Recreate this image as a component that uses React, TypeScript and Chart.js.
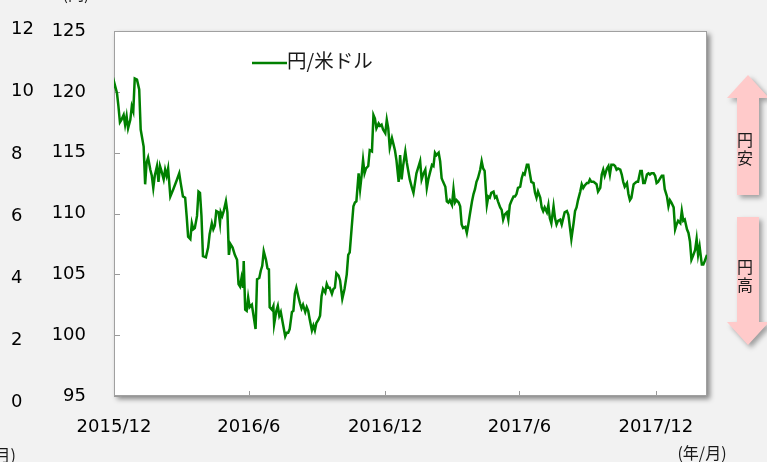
import React, { useEffect, useRef } from 'react';
import { Chart, registerables } from 'chart.js';

Chart.register(...registerables);

// Day offsets counted from 2015-12-31
const days = [
  0, 1, 4, 6, 8, 10, 13, 15, 17, 19, 22, 24, 26, 28, 31, 34, 36, 40, 42, 44, 46, 49, 51, 53, 55, 58, 60, 62, 64, 67,
  69, 71, 73, 76, 80, 85, 88, 90, 93, 96, 98, 100, 103, 105, 107, 109, 112, 114, 116, 118, 120, 124, 127, 129, 132,
  134, 136, 138, 141, 143, 144, 146, 148, 151, 153, 155, 157, 160, 163, 166, 168, 170, 172, 174, 175, 177, 179, 181,
  183, 186, 189, 191, 193, 196, 198, 200, 202, 205, 207, 209, 210, 213, 215, 216, 219, 221, 223, 225, 228, 231, 233,
  235, 237, 240, 242, 244, 246, 249, 251, 253, 255, 258, 260, 262, 264, 267, 269, 271, 273, 276, 278, 280, 282, 285,
  287, 289, 291, 294, 296, 298, 300, 303, 305, 307, 308, 311, 314, 316, 318, 321, 323, 325, 327, 330, 332, 334, 336,
  338, 340, 343, 345, 348, 350, 352, 354, 357, 359, 361, 363, 366, 368, 370, 372, 375, 377, 379, 381, 384, 386, 388,
  390, 393, 395, 397, 399, 402, 404, 406, 408, 411, 413, 415, 417, 420, 422, 424, 426, 429, 431, 433, 435, 438, 440,
  442, 444, 447, 449, 451, 453, 456, 458, 460, 462, 465, 467, 469, 471, 474, 476, 478, 480, 483, 485, 487, 489, 491,
  494, 496, 498, 500, 503, 505, 507, 509, 512, 514, 516, 518, 521, 523, 525, 527, 530, 532, 534, 536, 539, 541, 543,
  545, 548, 550, 552, 554, 557, 559, 561, 563, 566, 568, 570, 572, 575, 577, 579, 581, 584, 586, 588, 590, 593, 595,
  597, 599, 602, 604, 606, 608, 611, 613, 615, 617, 620, 622, 624, 626, 629, 631, 633, 635, 638, 640, 642, 644, 647,
  649, 651, 653, 656, 658, 660, 662, 665, 667, 669, 671, 674, 676, 678, 680, 683, 685, 687, 689, 692, 694, 696, 698,
  701, 703, 705, 707, 710, 712, 714, 716, 719, 721, 723, 725, 728, 730, 732, 734, 737, 739, 741, 743, 746, 748, 750,
  752, 755, 757, 759, 761, 764, 766, 768, 770, 773, 775, 777, 779, 781, 784, 786, 788, 790, 793, 795, 797, 800,
];

// 円/米ドル
const rates = [
  120.4, 120.6, 119.9, 118.8, 117.5, 117.7, 118.1, 117.3, 118.0, 117.0, 117.7, 118.8, 118.4, 121.1, 121.0, 120.2,
  116.9, 115.5, 112.4, 114.2, 114.6, 113.6, 113.1, 112.1, 113.1, 113.9, 112.6, 113.9, 113.5, 112.8, 113.6, 113.1,
  113.7, 111.4, 112.0, 112.8, 113.3, 112.5, 111.4, 111.3, 109.8, 108.1, 107.9, 109.2, 108.7, 108.8, 109.8, 111.8,
  111.7, 109.8, 106.5, 106.4, 107.2, 108.3, 109.2, 108.7, 109.0, 110.2, 110.1, 109.2, 110.1, 109.8, 110.2, 111.0,
  110.1, 106.6, 107.5, 107.2, 106.6, 106.2, 104.2, 104.0, 104.7, 103.9, 106.1, 102.1, 102.0, 103.1, 102.3, 102.5,
  101.3, 100.5, 104.6, 104.7, 105.3, 105.7, 106.9, 106.2, 105.5, 105.4, 102.3, 102.1, 102.4, 100.9, 102.0, 102.4,
  101.6, 101.9, 100.9, 99.9, 100.2, 100.2, 100.5, 101.9, 102.0, 103.4, 103.9, 103.1, 102.6, 102.2, 102.5, 101.9,
  102.3, 102.0, 101.3, 100.4, 100.8, 100.4, 101.0, 101.3, 101.6, 103.2, 103.8, 103.5, 104.2, 103.9, 103.9, 103.4,
  103.8, 103.9, 105.1, 104.9, 104.5, 103.5, 103.0, 103.8, 105.0, 106.6, 106.8, 109.1, 110.6, 110.9, 111.0, 113.3,
  112.0, 113.1, 114.4, 113.3, 113.7, 113.9, 115.2, 115.1, 118.1, 117.8, 117.0, 117.4, 117.2, 117.3, 116.9, 116.6,
  117.7, 117.0, 115.4, 116.2, 115.7, 115.2, 114.4, 112.6, 114.8, 112.8, 113.9, 115.1, 114.2, 113.5, 112.8, 112.1,
  111.7, 112.5, 113.3, 113.9, 114.3, 112.8, 113.2, 113.6, 112.1, 112.8, 113.3, 114.0, 113.9, 115.0, 114.8, 115.0,
  114.3, 112.9, 112.6, 112.2, 111.0, 110.9, 111.1, 110.7, 112.0, 110.9, 111.1, 110.9, 110.6, 109.1, 108.8, 108.9,
  108.4, 109.1, 109.9, 111.0, 111.6, 112.0, 112.6, 112.9, 113.6, 114.3, 113.7, 113.5, 110.7, 111.4, 111.3, 111.7,
  111.8, 111.3, 111.4, 111.0, 110.5, 110.3, 109.5, 109.9, 110.1, 109.5, 110.7, 111.0, 111.4, 111.4, 111.6, 112.1,
  112.2, 112.9, 113.3, 113.2, 114.0, 114.0, 113.3, 112.6, 112.5, 111.7, 111.3, 111.8, 111.3, 110.5, 110.2, 110.5,
  110.1, 110.7, 109.6, 109.2, 110.6, 109.6, 109.1, 109.4, 109.5, 109.1, 109.6, 110.1, 110.2, 109.9, 108.9, 107.9,
  109.2, 110.2, 110.5, 111.1, 111.8, 112.4, 112.1, 112.3, 112.5, 112.5, 112.8, 112.6, 112.6, 112.5, 112.4, 111.8,
  112.1, 113.2, 113.6, 113.1, 113.7, 113.9, 113.2, 114.0, 114.0, 113.9, 113.6, 113.7, 113.6, 113.2, 112.6, 112.2,
  112.5, 111.6, 111.1, 111.3, 112.4, 112.5, 112.6, 112.6, 113.5, 113.5, 112.5, 112.5, 113.2, 113.3, 113.2, 113.3,
  113.3, 113.1, 112.5, 112.6, 112.9, 113.1, 113.1, 112.0, 111.4, 110.6, 111.1, 110.9, 110.5, 108.7, 109.1, 109.4,
  109.2, 110.2, 109.4, 109.5, 108.7, 108.4, 107.7, 106.2, 106.5, 107.0, 107.9, 106.6, 107.3, 105.8, 105.8, 106.1,
  106.6,
];

const seriesName = '円/米ドル';
const xTickDays = [0, 182, 366, 547, 731];
const xTickLabels = ['2015/12', '2016/6', '2016/12', '2017/6', '2017/12'];
const yenTicks = [95, 100, 105, 110, 115, 120, 125];
const pctTicks = [0, 2, 4, 6, 8, 10, 12];
const upLabel = ['円', '安'];
const downLabel = ['円', '高'];
const axisUnit = '(年/月)';
const yenUnit = '(円)';

const LINE_COLOR = '#008000';
const TICK_FONT = { family: '"DejaVu Sans", Verdana, sans-serif', size: 18 };
const CJK = '"Noto Sans CJK JP", sans-serif';

function drawArrow(ctx: CanvasRenderingContext2D, cx: number, y1: number, y2: number, up: boolean) {
  const headH = 23;
  const headHalf = 21;
  const shaftHalf = 11;
  ctx.beginPath();
  if (up) {
    ctx.moveTo(cx, y1);
    ctx.lineTo(cx + headHalf, y1 + headH);
    ctx.lineTo(cx + shaftHalf, y1 + headH);
    ctx.lineTo(cx + shaftHalf, y2);
    ctx.lineTo(cx - shaftHalf, y2);
    ctx.lineTo(cx - shaftHalf, y1 + headH);
    ctx.lineTo(cx - headHalf, y1 + headH);
  } else {
    ctx.moveTo(cx, y2);
    ctx.lineTo(cx + headHalf, y2 - headH);
    ctx.lineTo(cx + shaftHalf, y2 - headH);
    ctx.lineTo(cx + shaftHalf, y1);
    ctx.lineTo(cx - shaftHalf, y1);
    ctx.lineTo(cx - shaftHalf, y2 - headH);
    ctx.lineTo(cx - headHalf, y2 - headH);
  }
  ctx.closePath();
  ctx.fill();
}

const noPad = (s: any) => {
  s.paddingTop = 0;
  s.paddingBottom = 0;
};

const decor = {
  id: 'decor',
  beforeDraw(chart: any) {
    const { ctx, chartArea: a, width, height } = chart;
    ctx.save();
    ctx.fillStyle = '#f2f2f2';
    ctx.fillRect(0, 0, width, height);
    ctx.shadowColor = 'rgba(0,0,0,0.45)';
    ctx.shadowBlur = 5;
    ctx.shadowOffsetX = 3;
    ctx.shadowOffsetY = 3;
    ctx.fillStyle = '#ffffff';
    ctx.fillRect(a.left, a.top, a.right - a.left, a.bottom - a.top);
    ctx.restore();

    // arrows
    ctx.save();
    ctx.shadowColor = 'rgba(0,0,0,0.35)';
    ctx.shadowBlur = 5;
    ctx.shadowOffsetX = 3;
    ctx.shadowOffsetY = 3;
    ctx.fillStyle = '#ffcaca';
    const cx = a.right + 41;
    drawArrow(ctx, cx, a.top + 44, a.top + 164, true);
    drawArrow(ctx, cx, a.top + 186, a.top + 314, false);
    ctx.restore();

    ctx.save();
    ctx.fillStyle = '#1a1a1a';
    ctx.font = `16px ${CJK}`;
    ctx.textAlign = 'center';
    ctx.textBaseline = 'middle';
    ctx.fillText(upLabel[0], cx - 3, a.top + 109);
    ctx.fillText(upLabel[1], cx - 3, a.top + 127);
    ctx.fillText(downLabel[0], cx - 3, a.top + 236);
    ctx.fillText(downLabel[1], cx - 3, a.top + 254);

    ctx.textAlign = 'center';
    ctx.fillText(axisUnit, a.right - 5, height - 9);
    ctx.textAlign = 'right';
    ctx.fillText(axisUnit, 16, height - 7);
    ctx.textAlign = 'center';
    ctx.textBaseline = 'alphabetic';
    ctx.fillText(yenUnit, 76, 0);
    ctx.restore();
  },
  beforeDatasetsDraw(chart: any) {
    const { ctx, chartArea: a, scales } = chart;
    ctx.save();
    ctx.strokeStyle = '#9a9a9a';
    ctx.lineWidth = 1;
    ctx.beginPath();
    for (const d of xTickDays) {
      const px = Math.round(scales.x.getPixelForValue(d)) + 0.5;
      ctx.moveTo(px, a.bottom);
      ctx.lineTo(px, a.bottom - 5);
    }
    for (const v of yenTicks) {
      const py = Math.round(scales.y.getPixelForValue(v)) + 0.5;
      ctx.moveTo(a.left, py);
      ctx.lineTo(a.left + 6, py);
    }
    ctx.stroke();
    ctx.strokeStyle = '#a0a0a0';
    ctx.strokeRect(a.left + 0.5, a.top + 0.5, a.right - a.left - 1, a.bottom - a.top - 1);

    // legend
    const lx = a.left + 138;
    const ly = a.top + 32;
    ctx.strokeStyle = LINE_COLOR;
    ctx.lineWidth = 2.5;
    ctx.beginPath();
    ctx.moveTo(lx, ly);
    ctx.lineTo(lx + 35, ly);
    ctx.stroke();
    ctx.fillStyle = '#1a1a1a';
    ctx.font = `19.5px ${CJK}`;
    ctx.textAlign = 'left';
    ctx.textBaseline = 'middle';
    ctx.fillText(seriesName, lx + 35, ly - 2);
    ctx.restore();
  },
};

export default function App() {
  const ref = useRef<HTMLCanvasElement | null>(null);
  useEffect(() => {
    if (!ref.current) return;
    const chart = new Chart(ref.current, {
      type: 'line',
      data: {
        datasets: [
          {
            label: seriesName,
            data: days.map((d, i) => ({ x: d, y: rates[i] })),
            borderColor: LINE_COLOR,
            borderWidth: 2.5,
            pointRadius: 0,
            tension: 0,
            yAxisID: 'y',
          },
        ],
      },
      options: {
        animation: false,
        responsive: false,
        layout: { padding: { left: 11, right: 60, top: 31, bottom: 0 } },
        plugins: { legend: { display: false }, tooltip: { enabled: false } },
        scales: {
          x: {
            type: 'linear',
            min: 0,
            max: 800,
            grid: { display: false, drawTicks: false },
            border: { display: false },
            afterBuildTicks: (s: any) => {
              s.ticks = xTickDays.map((v) => ({ value: v }));
            },
            afterFit: (s: any) => {
              s.height = 66;
              s.paddingLeft = 0;
              s.paddingRight = 0;
            },
            ticks: {
              autoSkip: false,
              maxRotation: 0,
              padding: 21,
              color: '#000',
              font: TICK_FONT,
              callback: (v: any) => xTickLabels[xTickDays.indexOf(Number(v))] ?? '',
            },
          },
          y: {
            type: 'linear',
            position: 'left',
            weight: 0,
            min: 95,
            max: 125,
            grid: { display: false, drawTicks: false },
            border: { display: false },
            afterBuildTicks: (s: any) => {
              s.ticks = yenTicks.map((v) => ({ value: v }));
            },
            afterFit: (s: any) => {
              s.width = 63;
              noPad(s);
            },
            ticks: { padding: 28, color: '#000', font: TICK_FONT, crossAlign: 'near' },
          },
          y2: {
            type: 'linear',
            position: 'left',
            weight: 1,
            min: 0.209,
            max: 11.955,
            grid: { display: false, drawTicks: false },
            border: { display: false },
            afterBuildTicks: (s: any) => {
              s.ticks = pctTicks.map((v) => ({ value: v }));
            },
            afterFit: (s: any) => {
              s.width = 40;
              noPad(s);
            },
            ticks: { padding: 0, color: '#000', font: TICK_FONT, crossAlign: 'far' },
          },
        },
      },
      plugins: [decor],
    } as any);
    return () => chart.destroy();
  }, []);
  return (
    <div style={{ position: 'fixed', left: 0, top: 0, width: 767, height: 462, background: '#f2f2f2' }}>
      <canvas ref={ref} width={767} height={462} style={{ width: 767, height: 462, display: 'block' }} />
    </div>
  );
}
